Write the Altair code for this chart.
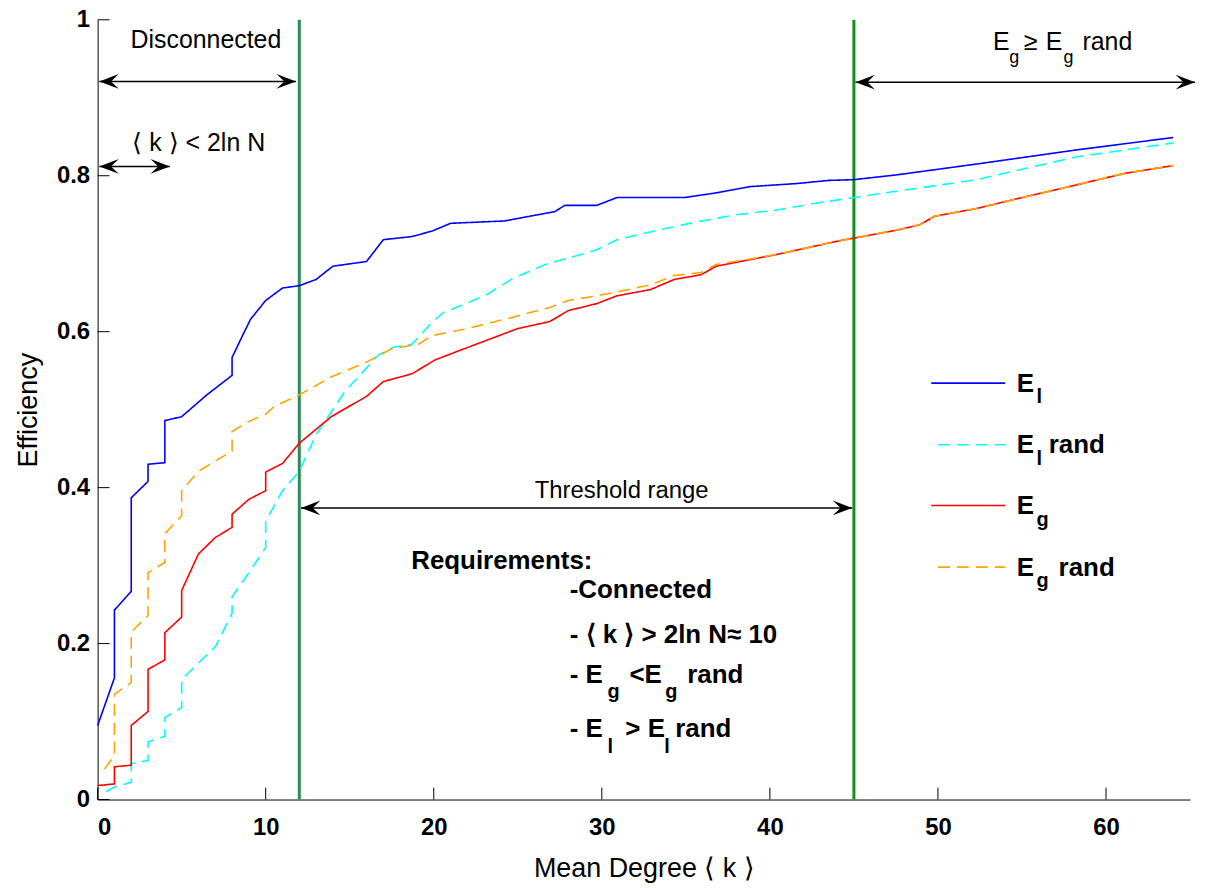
import altair as alt
import pandas as pd

# ---------------- data ----------------
k_el = [0, 1, 1, 2, 2, 3, 3, 4, 4, 5, 6.5, 8, 8, 8.6, 9.1, 10, 11, 12, 13, 14, 16, 17, 18.7, 19.9, 21,
        24.2, 27.2, 27.8, 29.7, 30.9, 34.9, 36.8, 38.8, 41.6, 43.5, 45, 47.5, 52.3, 58.2, 64]
e_el = [0.095, 0.156, 0.243, 0.267, 0.387, 0.408, 0.43, 0.432, 0.486, 0.491, 0.519, 0.544, 0.567, 0.594, 0.616,
        0.64, 0.656, 0.659, 0.667, 0.684, 0.69, 0.718, 0.722, 0.729, 0.739, 0.742, 0.754, 0.762, 0.762, 0.772,
        0.772, 0.778, 0.786, 0.79, 0.794, 0.795, 0.801, 0.815, 0.833, 0.849]

k_elr = [0.5, 1, 2, 2, 3, 3, 4, 4, 5, 5, 6, 7, 8, 8, 9, 10, 10, 11, 12, 13, 14.7, 16.7, 17.6, 18.7, 19.9,
         20.6, 21.8, 23.2, 24.6, 26.6, 28.6, 29.7, 30.9, 33.3, 35.7, 38, 40.4, 42.8, 45, 47.5, 52.3, 58.2, 64]
e_elr = [0.01, 0.016, 0.022, 0.046, 0.05, 0.074, 0.081, 0.105, 0.118, 0.154, 0.175, 0.196, 0.239, 0.26, 0.291,
         0.323, 0.357, 0.396, 0.421, 0.468, 0.523, 0.57, 0.58, 0.584, 0.612, 0.625, 0.635, 0.648, 0.667, 0.686,
         0.698, 0.705, 0.718, 0.73, 0.741, 0.75, 0.756, 0.765, 0.772, 0.78, 0.795, 0.824, 0.842]

k_eg = [0, 1, 1, 2, 2, 3, 3, 4, 4, 5, 5, 6, 7, 8, 8, 9, 10, 10, 11, 12, 13.9, 16, 17, 18.7, 20.1, 21.8, 25,
        26.9, 28, 29.7, 30.9, 32.9, 34.3, 35.9, 36.8, 40.4, 44, 45, 47.5, 48.9, 49.8, 52.3, 55.2, 58.2, 61.1, 64]
e_eg = [0.018, 0.02, 0.042, 0.044, 0.095, 0.113, 0.167, 0.179, 0.214, 0.234, 0.268, 0.315, 0.336, 0.349, 0.366,
        0.385, 0.396, 0.42, 0.431, 0.457, 0.491, 0.517, 0.536, 0.546, 0.564, 0.578, 0.604, 0.613, 0.627, 0.636,
        0.646, 0.654, 0.667, 0.673, 0.684, 0.699, 0.716, 0.72, 0.73, 0.737, 0.748, 0.758, 0.773, 0.788, 0.803, 0.813]

k_egr = [0.4, 1, 1, 2, 2, 3, 3, 4, 4, 5, 5, 6, 8, 8, 9, 10, 10.5, 12, 13.9, 16, 17.5, 19.1, 19.9, 21.8, 24.6,
         26.9, 28, 29.7, 30.9, 32.9, 34.3, 35.9, 36.8, 40.4, 44, 45, 47.5, 48.9, 49.8, 52.3, 55.2, 58.2, 61.1, 64]
e_egr = [0.039, 0.056, 0.135, 0.15, 0.215, 0.236, 0.291, 0.304, 0.341, 0.364, 0.396, 0.421, 0.447, 0.472, 0.485,
         0.494, 0.504, 0.519, 0.542, 0.561, 0.578, 0.584, 0.595, 0.603, 0.618, 0.631, 0.64, 0.646, 0.651, 0.66,
         0.672, 0.676, 0.686, 0.699, 0.716, 0.72, 0.73, 0.737, 0.748, 0.758, 0.773, 0.788, 0.803, 0.813]

series_names = ["E_l", "E_l rand", "E_g", "E_g rand"]
series_colors = ["#0000ff", "#00ffff", "#ff0000", "#ffa500"]
series_dashes = [[1, 0], [12, 7], [1, 0], [12, 7]]

x_ticks = [0, 10, 20, 30, 40, 50, 60]
y_ticks = [0, 0.2, 0.4, 0.6, 0.8, 1]

threshold_k = [12, 45]
threshold_colors = ["#2e8b57", "#139013"]

FONT = "Liberation Sans"
W, H = 1097, 783

# ---------------- tables ----------------
rows = []
for name, ks, es in zip(series_names, [k_el, k_elr, k_eg, k_egr], [e_el, e_elr, e_eg, e_egr]):
    for i, (k, e) in enumerate(zip(ks, es)):
        rows.append({"series": name, "k": k, "E": e, "order": i})
df = pd.DataFrame(rows)

xscale = alt.Scale(domain=[0, 65], nice=False, zero=False)
yscale = alt.Scale(domain=[0, 1], nice=False, zero=False)

xaxis = alt.Axis(values=x_ticks, format="d", title="Mean Degree \u27e8 k \u27e9", ticks=False, tickSize=0,
                 labelPadding=16, titlePadding=16, grid=False)
yaxis = alt.Axis(values=y_ticks, format="~g", title="Efficiency", ticks=False, tickSize=0,
                 labelPadding=8, titlePadding=14, grid=False)


def X(field):
    return alt.X(field, scale=xscale, axis=xaxis)


def Y(field):
    return alt.Y(field, scale=yscale, axis=yaxis)


lines = alt.Chart(df).mark_line(strokeWidth=1.6, clip=False).encode(
    x=X("k:Q"),
    y=Y("E:Q"),
    color=alt.Color("series:N", scale=alt.Scale(domain=series_names, range=series_colors), legend=None),
    strokeDash=alt.StrokeDash("series:N", scale=alt.Scale(domain=series_names, range=series_dashes), legend=None),
    order="order:Q",
    detail="series:N",
)

# inward ticks
ytick_df = pd.DataFrame({"v": y_ticks})
xtick_df = pd.DataFrame({"v": x_ticks})
yticks = alt.Chart(ytick_df).mark_rule(color="black", strokeWidth=1).encode(
    y=Y("v:Q"), x=alt.value(0), x2=alt.value(12))
xticks = alt.Chart(xtick_df).mark_rule(color="black", strokeWidth=1).encode(
    x=X("v:Q"), y=alt.value(H), y2=alt.value(H - 12))

# green threshold lines
vl_df = pd.DataFrame({"k": threshold_k, "c": threshold_colors})
vlines = alt.Chart(vl_df).mark_rule(strokeWidth=3).encode(
    x=X("k:Q"), y=alt.value(0), y2=alt.value(H),
    color=alt.Color("c:N", scale=None))

# arrows
arrow_df = pd.DataFrame({
    "k1": [0.1, 0.1, 45.1, 12.1],
    "k2": [11.8, 4.3, 65.3, 44.9],
    "E": [0.921, 0.812, 0.920, 0.374],
})
arrow_lines = alt.Chart(arrow_df).mark_rule(color="black", strokeWidth=1.5).encode(
    x=X("k1:Q"), x2="k2:Q", y=Y("E:Q"))
RIGHT_HEAD = "M0,0 L-2,-0.76 L-1.2,0 L-2,0.76 Z"
LEFT_HEAD = "M0,0 L2,-0.76 L1.2,0 L2,0.76 Z"
heads_r = alt.Chart(arrow_df).mark_point(shape=RIGHT_HEAD, filled=True, size=380, color="black",
                                          opacity=1, strokeWidth=0).encode(
    x=X("k2:Q"), y=Y("E:Q"))
heads_l = alt.Chart(arrow_df).mark_point(shape=LEFT_HEAD, filled=True, size=380, color="black",
                                          opacity=1, strokeWidth=0).encode(
    x=X("k1:Q"), y=Y("E:Q"))

# text annotations (left-aligned pieces, subscripts as separate pieces)
reg_text = pd.DataFrame([
    {"t": "Disconnected", "k": 1.96, "E": 0.964, "s": 25},
    {"t": "\u27e8 k \u27e9 < 2ln N", "k": 2.07, "E": 0.832, "s": 25},
    {"t": "E", "k": 53.27, "E": 0.961, "s": 25},
    {"t": "g", "k": 54.25, "E": 0.944, "s": 18},
    {"t": "\u2265", "k": 55.1, "E": 0.961, "s": 25},
    {"t": "E", "k": 56.41, "E": 0.961, "s": 25},
    {"t": "g", "k": 57.47, "E": 0.944, "s": 18},
    {"t": "rand", "k": 58.6, "E": 0.961, "s": 25},
    {"t": "Threshold range", "k": 26.01, "E": 0.387, "s": 24},
])
bold_text = pd.DataFrame([
    {"t": "Requirements:", "k": 18.66, "E": 0.296, "s": 26},
    {"t": "-Connected", "k": 28.09, "E": 0.258, "s": 26},
    {"t": "- \u27e8 k \u27e9 > 2ln N\u2248 10", "k": 28.09, "E": 0.201, "s": 26},
    {"t": "- E", "k": 28.09, "E": 0.150, "s": 26},
    {"t": "g", "k": 30.34, "E": 0.130, "s": 20},
    {"t": "<E", "k": 31.64, "E": 0.150, "s": 26},
    {"t": "g", "k": 33.77, "E": 0.130, "s": 20},
    {"t": "rand", "k": 35.08, "E": 0.150, "s": 26},
    {"t": "- E", "k": 28.09, "E": 0.080, "s": 26},
    {"t": "l", "k": 30.34, "E": 0.060, "s": 20},
    {"t": "> E", "k": 31.4, "E": 0.080, "s": 26},
    {"t": "l", "k": 33.71, "E": 0.060, "s": 20},
    {"t": "rand", "k": 34.37, "E": 0.080, "s": 26},
    # legend labels
    {"t": "E", "k": 54.69, "E": 0.523, "s": 26},
    {"t": "l", "k": 55.87, "E": 0.508, "s": 20},
    {"t": "E", "k": 54.69, "E": 0.444, "s": 26},
    {"t": "l", "k": 55.87, "E": 0.429, "s": 20},
    {"t": "rand", "k": 56.59, "E": 0.444, "s": 26},
    {"t": "E", "k": 54.69, "E": 0.366, "s": 26},
    {"t": "g", "k": 55.87, "E": 0.351, "s": 20},
    {"t": "E", "k": 54.69, "E": 0.287, "s": 26},
    {"t": "g", "k": 55.87, "E": 0.272, "s": 20},
    {"t": "rand", "k": 57.18, "E": 0.287, "s": 26},
])


def text_layer(d, weight):
    return alt.Chart(d).mark_text(align="left", baseline="alphabetic", font=FONT, fontWeight=weight,
                                  color="black").encode(
        x=X("k:Q"), y=Y("E:Q"),
        text="t:N", size=alt.Size("s:Q", scale=None, legend=None))


reg_layer = text_layer(reg_text, "normal")
bold_layer = text_layer(bold_text, "bold")

# custom legend samples
leg_df = pd.DataFrame({
    "series": series_names,
    "k1": [49.6, 50.0, 49.6, 50.0],
    "k2": [54.0, 54.0, 54.0, 54.0],
    "E": [0.534, 0.455, 0.377, 0.298],
})
leg_lines = alt.Chart(leg_df).mark_rule(strokeWidth=1.6).encode(
    x=X("k1:Q"), x2="k2:Q", y=Y("E:Q"),
    color=alt.Color("series:N", scale=alt.Scale(domain=series_names, range=series_colors), legend=None),
    strokeDash=alt.StrokeDash("series:N", scale=alt.Scale(domain=series_names, range=series_dashes), legend=None),
)

chart = alt.layer(
    vlines, lines, yticks, xticks, arrow_lines, heads_r, heads_l, leg_lines, reg_layer, bold_layer
).resolve_scale(color="independent", strokeDash="independent").properties(
    width=W, height=H,
    autosize=alt.AutoSizeParams(type="none"),
    padding={"left": 90, "top": 10, "right": 10, "bottom": 86},
).configure_view(stroke=None).configure_axis(
    domainColor="black", domainWidth=1, labelFont=FONT, labelFontSize=24, labelFontWeight="bold",
    labelColor="black", titleFont=FONT, titleFontSize=27, titleFontWeight="normal", titleColor="black",
)

chart.save("out.html", embed_options={"renderer": "svg", "actions": False})
